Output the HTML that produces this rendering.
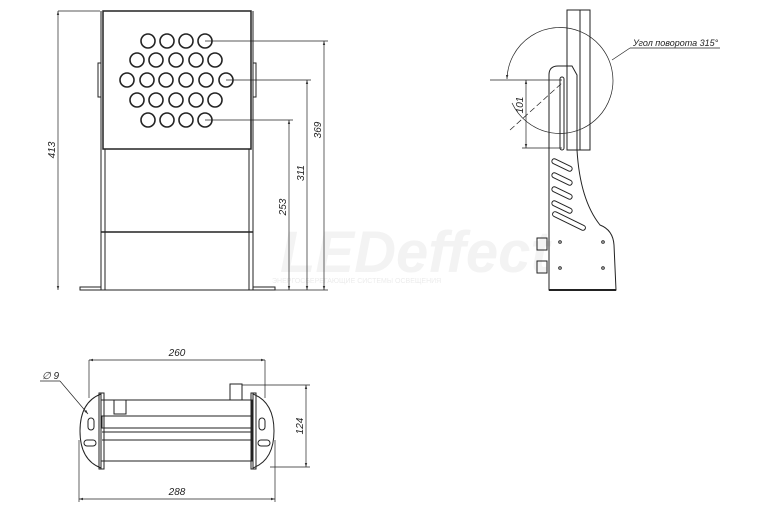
<!DOCTYPE html>
<html><head><meta charset="utf-8"><style>html,body{margin:0;padding:0;background:#fff}svg{display:block}</style></head>
<body>
<svg width="768" height="512" viewBox="0 0 768 512" xmlns="http://www.w3.org/2000/svg" font-family="Liberation Sans, sans-serif">
<defs><marker id="a" viewBox="0 0 10 10" refX="10" refY="5" markerWidth="6" markerHeight="6" orient="auto-start-reverse"><path d="M0,2 L10,5 L0,8 z" fill="#333"/></marker></defs>
<text x="280" y="272" font-size="58" font-style="italic" fill="#f3f3f3" font-weight="bold">LEDeffect</text>
<text x="272" y="283" font-size="7" fill="#ececec">ЭНЕРГОСБЕРЕГАЮЩИЕ СИСТЕМЫ ОСВЕЩЕНИЯ</text>
<g stroke="#222" fill="none" stroke-width="1">
<rect x="103" y="11" width="148" height="138" stroke-width="1.5"/>
<line x1="101" y1="11" x2="101" y2="290"/><line x1="105" y1="149" x2="105" y2="290"/>
<line x1="253" y1="11" x2="253" y2="290"/><line x1="249" y1="149" x2="249" y2="290"/>
<line x1="101" y1="232" x2="253" y2="232" stroke-width="1.5"/>
<line x1="80" y1="290" x2="275" y2="290"/>
<rect x="80" y="287" width="21" height="3"/><rect x="253" y="287" width="22" height="3"/>
<rect x="98" y="63" width="3" height="34"/><rect x="253" y="63" width="3" height="34"/>
<g stroke-width="1.6">
<circle cx="148" cy="41" r="7"/><circle cx="167" cy="41" r="7"/><circle cx="186" cy="41" r="7"/><circle cx="205" cy="41" r="7"/>
<circle cx="137" cy="60" r="7"/><circle cx="156" cy="60" r="7"/><circle cx="176" cy="60" r="7"/><circle cx="196" cy="60" r="7"/><circle cx="215" cy="60" r="7"/>
<circle cx="127" cy="80" r="7"/><circle cx="147" cy="80" r="7"/><circle cx="166" cy="80" r="7"/><circle cx="186" cy="80" r="7"/><circle cx="206" cy="80" r="7"/><circle cx="226" cy="80" r="7"/>
<circle cx="137" cy="100" r="7"/><circle cx="156" cy="100" r="7"/><circle cx="176" cy="100" r="7"/><circle cx="196" cy="100" r="7"/><circle cx="215" cy="100" r="7"/>
<circle cx="148" cy="120" r="7"/><circle cx="167" cy="120" r="7"/><circle cx="186" cy="120" r="7"/><circle cx="205" cy="120" r="7"/>
</g>
<g stroke-width="0.7">
<line x1="58" y1="11" x2="100" y2="11"/><line x1="58" y1="11" x2="58" y2="290" marker-start="url(#a)" marker-end="url(#a)"/>
<line x1="205" y1="41" x2="328" y2="41"/><line x1="324" y1="41" x2="324" y2="290" marker-start="url(#a)" marker-end="url(#a)"/>
<line x1="226" y1="80" x2="311" y2="80"/><line x1="307" y1="80" x2="307" y2="290" marker-start="url(#a)" marker-end="url(#a)"/>
<line x1="205" y1="120" x2="293" y2="120"/><line x1="289" y1="120" x2="289" y2="290" marker-start="url(#a)" marker-end="url(#a)"/>
<line x1="275" y1="290" x2="328" y2="290"/>
</g>
<rect x="567" y="10" width="23" height="140"/><line x1="580" y1="10" x2="580" y2="150"/>
<path d="M549,290 L549,75 Q549,66 558,66 L572,66 L577,75 L577,150 Q580,200 600,225 Q613,230 614,245 L616,290 Z"/>
<line x1="549" y1="290" x2="616" y2="290" stroke-width="2"/>
<rect x="560" y="77" width="4" height="73" rx="2"/>
<g transform="translate(562,165) rotate(26)"><rect x="-11" y="-2.5" width="22" height="5" rx="2.5"/></g>
<g transform="translate(562,179) rotate(26)"><rect x="-11" y="-2.5" width="22" height="5" rx="2.5"/></g>
<g transform="translate(562,193) rotate(26)"><rect x="-11" y="-2.5" width="22" height="5" rx="2.5"/></g>
<g transform="translate(562,207) rotate(26)"><rect x="-11" y="-2.5" width="22" height="5" rx="2.5"/></g>
<g transform="translate(569,221) rotate(26)"><rect x="-18" y="-2.5" width="36" height="5" rx="2.5"/></g>
<rect x="537" y="238" width="10" height="12"/><rect x="537" y="261" width="10" height="12"/>
<circle cx="560" cy="242" r="1.3"/><circle cx="603" cy="242" r="1.3"/><circle cx="560" cy="268" r="1.3"/><circle cx="603" cy="268" r="1.3"/>
<g stroke-width="0.7">
<path d="M507,79 A53,53 0 1 1 512,103" marker-start="url(#a)"/>
<line x1="490" y1="80" x2="562" y2="80"/><line x1="522" y1="148" x2="562" y2="148"/>
<line x1="526" y1="80" x2="526" y2="148" marker-start="url(#a)" marker-end="url(#a)"/>
<line x1="510" y1="130" x2="562" y2="83" stroke-dasharray="6,3"/>
<line x1="612" y1="60" x2="630" y2="48"/><line x1="630" y1="48" x2="720" y2="48"/>
</g>
<rect x="101" y="400" width="151" height="61"/>
<rect x="102" y="416" width="149" height="12"/><line x1="102" y1="432" x2="251" y2="432"/><line x1="102" y1="440" x2="251" y2="440"/>
<path d="M101,394 L101,468 Q80,460 80,431 Q80,402 101,394 Z"/><rect x="99" y="393" width="5" height="76"/>
<path d="M253,394 L253,468 Q274,460 274,431 Q274,402 253,394 Z"/><rect x="251" y="393" width="5" height="76"/>
<rect x="88" y="418" width="6" height="12" rx="3"/><rect x="259" y="418" width="6" height="12" rx="3"/>
<rect x="84" y="440" width="12" height="6" rx="3"/><rect x="258" y="440" width="12" height="6" rx="3"/>
<rect x="114" y="400" width="12" height="14"/><rect x="230" y="384" width="12" height="16"/>
<g stroke-width="0.7">
<line x1="89" y1="360" x2="89" y2="398"/><line x1="265" y1="360" x2="265" y2="398"/>
<line x1="89" y1="360" x2="265" y2="360" marker-start="url(#a)" marker-end="url(#a)"/>
<line x1="79" y1="440" x2="79" y2="502"/><line x1="275" y1="440" x2="275" y2="502"/>
<line x1="79" y1="499" x2="275" y2="499" marker-start="url(#a)" marker-end="url(#a)"/>
<line x1="242" y1="385" x2="310" y2="385"/><line x1="270" y1="467" x2="310" y2="467"/>
<line x1="306" y1="385" x2="306" y2="467" marker-start="url(#a)" marker-end="url(#a)"/>
<line x1="40" y1="381" x2="60" y2="381"/><line x1="60" y1="381" x2="88" y2="414" marker-end="url(#a)"/>
</g>
</g>
<g font-size="10" font-style="italic" fill="#222">
<text transform="translate(55,150) rotate(-90)" text-anchor="middle">413</text>
<text transform="translate(321,130) rotate(-90)" text-anchor="middle">369</text>
<text transform="translate(304,173) rotate(-90)" text-anchor="middle">311</text>
<text transform="translate(286,207) rotate(-90)" text-anchor="middle">253</text>
<text transform="translate(523,105) rotate(-90)" text-anchor="middle">101</text>
<text x="633" y="46" font-size="9">Угол поворота 315°</text>
<text x="177" y="356" text-anchor="middle">260</text>
<text x="177" y="495" text-anchor="middle">288</text>
<text transform="translate(303,426) rotate(-90)" text-anchor="middle">124</text>
<text x="42" y="379">∅ 9</text>
</g>
</svg>
</body></html>
